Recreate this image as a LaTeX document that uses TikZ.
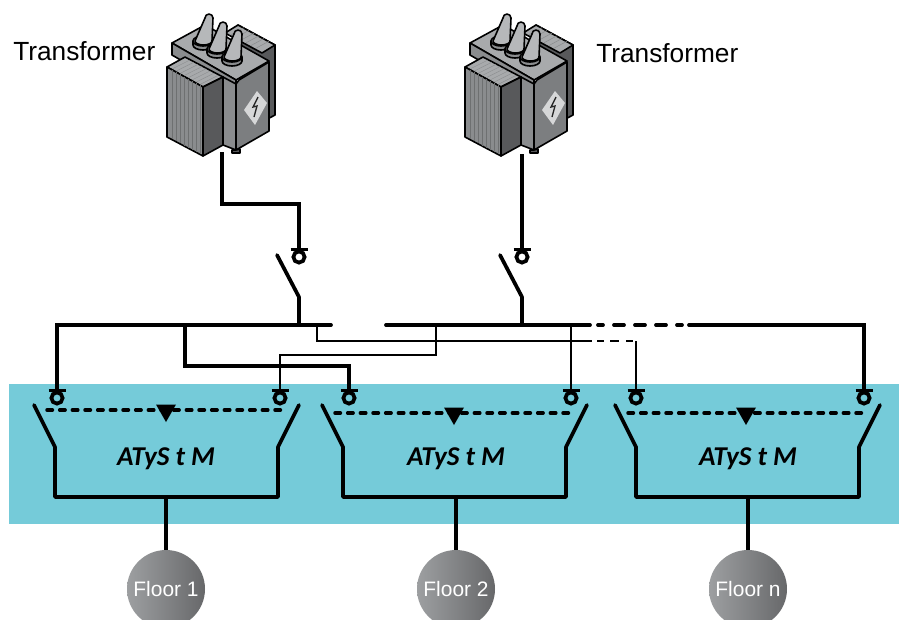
\documentclass[tikz,border=0pt]{standalone}
\usepackage{fontspec}
\setmainfont{Liberation Sans}
\newfontfamily\atysfont{Carlito}
\definecolor{teal1}{HTML}{75CBD9}
\definecolor{gd}{HTML}{58595B}
\definecolor{gm}{HTML}{8A8C8E}
\definecolor{gl}{HTML}{A8AAAC}
\definecolor{gxl}{HTML}{C4C6C8}
\definecolor{gbl}{HTML}{9D9FA1}
\definecolor{gbr}{HTML}{67686A}
\tikzset{
 bus/.style={line width=2.8pt,line cap=round,line join=miter},
 feed/.style={line width=3pt},
 thin wire/.style={line width=1.4pt},
 tie/.style={line width=2.6pt,dash pattern=on 4.1pt off 5.4pt,line cap=round},
 sw/.style={line width=2.8pt,line cap=round,line join=round},
 lbl/.style={font=\fontsize{19.7}{22}\selectfont,inner sep=0pt},
 atys/.style={font=\atysfont\bfseries\itshape\fontsize{20.4}{22}\selectfont,inner sep=0pt},
 floor/.style={circle,minimum size=78*0.75pt,inner sep=0pt,left color=gbl,right color=gbr,text=white,font=\fontsize{15.7}{17}\selectfont},
 edge/.style={draw=black,line width=1.2pt,line join=round},
 tri/.style={fill=black,draw=none},
 term/.style={circle,draw=black,line width=2.8pt,minimum size=8.4pt,inner sep=0pt,fill=none},
 termbar/.style={line width=2.6pt},
}
\newcommand{\transformerbody}{%
 % back coil
 \fill[gd,edge] (238,25) -- (275,45) -- (275,115) -- (262,122) -- (230,60) -- cycle;
 \fill[gl,edge] (238,25) -- (275,45) -- (262,53) -- (225,33) -- cycle;
 \foreach \i in {1,...,6}{\draw[gm,line width=.4pt] ({226+\i*5},{32+\i*2.7}) -- ({239+\i*5},{25+\i*2.7});}
 % top plate
 \fill[gl,edge] (172,43) -- (205,25) -- (269,61) -- (236,80) -- cycle;
 \fill[gm,edge] (172,43) -- (236,80) -- (236,92) -- (172,55) -- cycle;
 % core column
 \fill[gm,edge] (223,77) -- (236,84) -- (236,150) -- (223,145) -- cycle;
 % side face
 \fill[gm!90!black,edge] (236,84) -- (239,80) -- (269,62) -- (269,131) -- (236,150) -- cycle;
 \fill[gd,edge] (232,150) -- (236,150) -- (240,149) -- (240,153) -- (232,153) -- cycle;
 % diamond
 \fill[gxl!70!white,draw=none] (257,91) -- (267,103) -- (255,125) -- (244,110) -- cycle;
 \draw[line width=1pt,black!85] (258,97) -- (253,107) -- (257,106) -- (254,117);
 % front coil
 \fill[gl,edge] (167,67) -- (185,57) -- (223,77) -- (203,87) -- cycle;
 \fill[gm,edge] (167,67) -- (203,87) -- (203,156) -- (167,137) -- cycle;
 \fill[gd,edge] (203,87) -- (223,77) -- (223,145) -- (203,156) -- cycle;
 \foreach \i in {0,1,...,7}{\draw[gm!80!black,line width=.3pt] ({172+\i*4},{70+\i*2.2}) -- ({172+\i*4},{139+\i*2.2});
   \draw[gm,line width=.3pt] ({172+\i*4},{70+\i*2.2-1}) -- ({190+\i*4},{60+\i*2.2});}
 % bushings (y axis points down, so arcs through 90 bulge downward)
 \foreach \bx/\by in {203/43,217/51,232/59}{%
   \fill[gm,edge] (\bx-10,\by-2) -- (\bx-10,\by+2) arc[start angle=180,end angle=0,x radius=10,y radius=5] -- (\bx+10,\by-2) -- cycle;
   \fill[gl,edge] (\bx,\by-2) ellipse[x radius=10,y radius=5];
   \fill[gxl!50!gl,edge] (\bx-8,\by-2) -- (\bx+2,\by-25) arc[start angle=180,end angle=360,radius=4] -- (\bx+9,\by-2) arc[start angle=0,end angle=180,x radius=8.5,y radius=4] -- cycle;
 }
}
\begin{document}
\begin{tikzpicture}[x=0.75pt,y=-0.75pt]
\useasboundingbox (0,0) rectangle (899,619);
\fill[white] (0,0) rectangle (899,619);
\fill[teal1] (9,384) rectangle (899,524);

\node[lbl,anchor=west] (t1) at (13,51) {Transformer};
\node[lbl,anchor=west] (t2) at (596,53) {Transformer};

\begin{scope}\transformerbody\end{scope}
\begin{scope}[shift={(298,0)}]\transformerbody\end{scope}

% free points
\coordinate (c1) at (222,152);
\coordinate (c2) at (522,154);
\node[term] (up1) at (299,257) {};
\node[term] (up2) at (522,257) {};
\coordinate (b1) at (299,325);
\coordinate (b2) at (522,325);
\node[term] (a1) at (57,398) {};
\node[term] (a2) at (280,398) {};
\node[term] (b1t) at (349,398) {};
\node[term] (b2t) at (571,398) {};
\node[term] (c1t) at (636,398) {};
\node[term] (c2t) at (864,398) {};

% feeders
\draw[feed] (c1) |- (299,204) -- (up1.north);
\draw[feed] (c2) -- (up2.north);
% terminal bars
\foreach \n in {up1,up2,a1,a2,b1t,b2t,c1t,c2t}{
  \draw[termbar] (\n.center)++(-8.5,-7.6) -- ++(17,0);
}
% main switches
\draw[sw] (277,255) -- (299,297) -- (b1);
\draw[sw] (500,255) -- (522,297) -- (b2);

% busbars
\draw[bus] (331,325) -- (57,325) -- (a1.north);
\draw[bus] (386,325) -- (590,325);
\foreach \s/\e in {598/603,614/624,635/645,656/666,677/682}{
  \draw[bus] (\s,325) -- (\e,325);
}
\draw[bus] (689,325) -- (864,325) -- (c2t.north);
% second bus to bank
\draw[feed] (185,325) |- (349,366) -- (b1t.north);
% thin wires
\draw[thin wire] (317,325) |- (592,341);
\foreach \s/\e in {597/604,610/619,626/633}{
  \draw[thin wire] (\s,341) -- (\e,341);
}
\draw[thin wire] (636,341) -- (c1t.north);
\draw[thin wire] (436,325) |- (280,355) -- (a2.north);
\draw[thin wire] (571,325) -- (b2t.north);

% ATyS units
\foreach \l/\mx/\lx/\rx/\ly/\lab/\labx/\fx/\txt in {%
 u1/166/55/278/410/ATyS t M/166/166/Floor 1,%
 u2/454/343/566/413/ATyS t M/456/456/Floor 2,%
 u3/746/636/859/413/ATyS t M/748/748/Floor n}{
 \draw[sw] (\lx-21,405) -- (\lx,447) |- (\rx,497) -- (\rx,447) -- (\rx+21,405);
 \draw[tie] (\lx-8,\ly) -- (\rx+7,\ly);
 \fill[tri] (\mx-10,\ly-5.5) -- (\mx+10,\ly-5.5) -- (\mx,\ly+12) -- cycle;
 \node[atys] at (\labx,459) {\lab};
 \node[floor] (\l) at (\fx,589) {\txt};
 \draw[line width=3pt] (\fx,497) -- (\l.north);
}
\end{tikzpicture}
\end{document}
